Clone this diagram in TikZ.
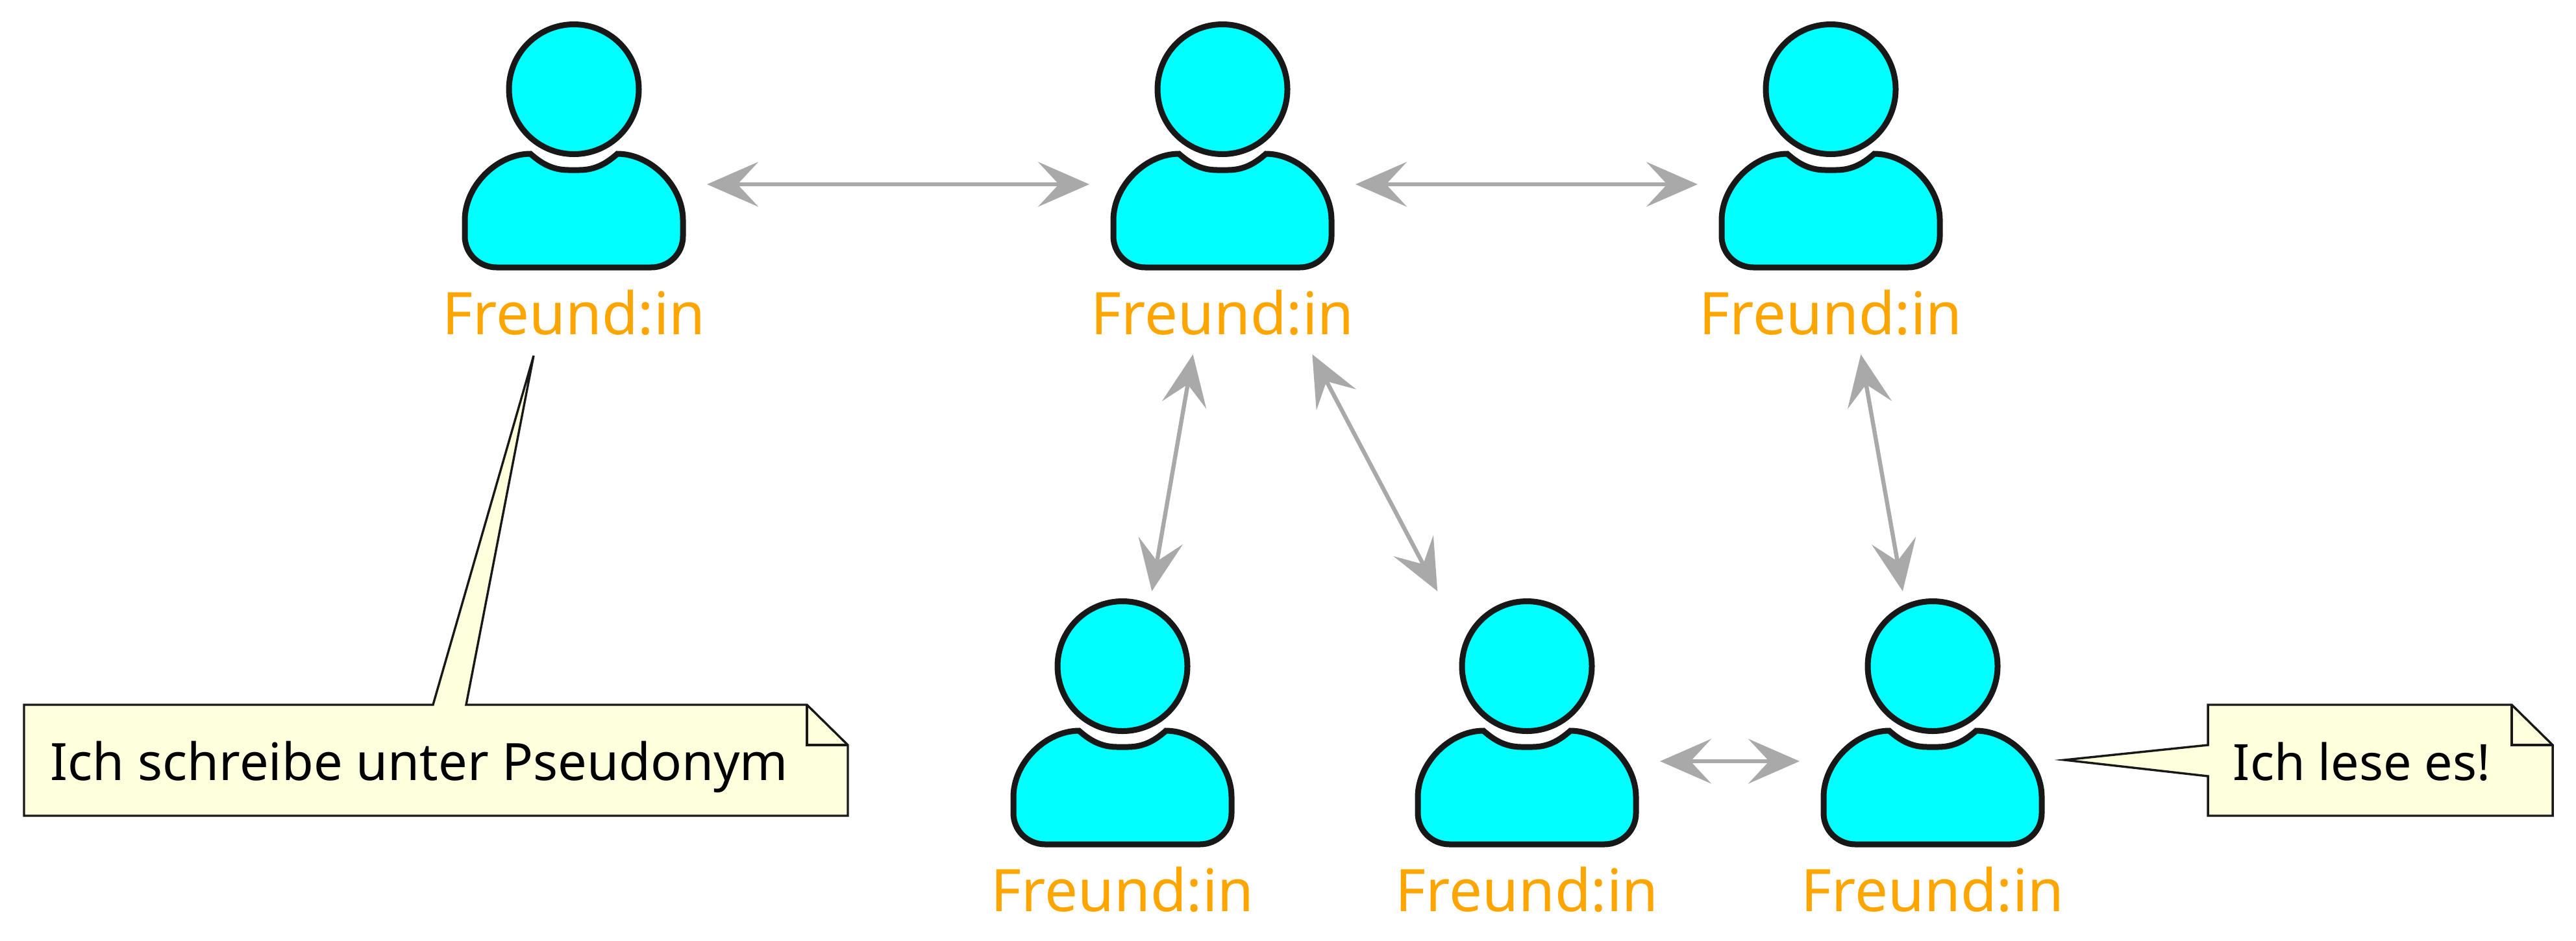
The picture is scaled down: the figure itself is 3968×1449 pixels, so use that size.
\documentclass[tikz,border=0pt]{standalone}
\usepackage{fontspec}
\setmainfont{Noto Sans}
\usetikzlibrary{arrows.meta}
\definecolor{linedark}{HTML}{181818}
\definecolor{notefill}{HTML}{FEFFDD}
\definecolor{arrowgrey}{HTML}{A9A9A9}
\definecolor{nameorange}{HTML}{FFA500}
\definecolor{friendcyan}{HTML}{00FFFF}
\tikzset{
  friend/.style={minimum width=102.5pt,minimum height=131pt,inner sep=0pt,outer sep=0pt},
  friendname/.style={anchor=base,inner sep=0pt,text=nameorange,font=\fontsize{22.6pt}{27pt}\selectfont},
  friendarrow/.style={draw=arrowgrey,line width=1.6pt,
    {Stealth[length=19.75pt,width=17.25pt,inset=8pt,color=arrowgrey]}-{Stealth[length=19.75pt,width=17.25pt,inset=8pt,color=arrowgrey]}},
  notebox/.style={draw=linedark,fill=notefill,line width=0.85pt,line join=miter},
  notefold/.style={draw=linedark,line width=0.85pt},
  notetext/.style={anchor=base west,inner sep=0pt,font=\fontsize{19.85pt}{24pt}\selectfont},
  friendicon/.pic={
    \draw[draw=linedark,fill=friendcyan,line width=2.25pt] (0,-146.5) circle[radius=100];
    \draw[draw=linedark,fill=friendcyan,line width=2.25pt]
      (-67,-47) .. controls (-52,-34) and (-35,-22) .. (-8,-22) -- (8,-22)
      .. controls (35,-22) and (52,-34) .. (67,-47)
      .. controls (118,-47) and (168,2) .. (168,55) -- (168,80)
      .. controls (168,107) and (146,128) .. (119,128) -- (-119,128)
      .. controls (-146,128) and (-168,107) .. (-168,80) -- (-168,55)
      .. controls (-168,2) and (-118,-47) .. (-67,-47) -- cycle;
  }
}
\begin{document}
\begin{tikzpicture}[x=0.25pt,y=-0.25pt]
  \useasboundingbox (0,0) rectangle (3968,1449);

  \node[friend] (f1) at (884,284) {};
  \node[friend] (f2) at (1883,284) {};
  \node[friend] (f3) at (2820,284) {};
  \node[friend] (f4) at (1729,1173) {};
  \node[friend] (f5) at (2352,1173) {};
  \node[friend] (f6) at (2977,1173) {};

  \pic at (f1) {friendicon};
  \pic at (f2) {friendicon};
  \pic at (f3) {friendicon};
  \pic at (f4) {friendicon};
  \pic at (f5) {friendicon};
  \pic at (f6) {friendicon};

  \node[friendname] (l1) at ([yshift=7.75pt]f1.south) {Freund:in};
  \node[friendname] (l2) at ([yshift=7.75pt]f2.south) {Freund:in};
  \node[friendname] (l3) at ([yshift=7.75pt]f3.south) {Freund:in};
  \node[friendname] (l4) at ([yshift=7.75pt]f4.south) {Freund:in};
  \node[friendname] (l5) at ([yshift=7.75pt]f5.south) {Freund:in};
  \node[friendname] (l6) at ([yshift=7.75pt]f6.south) {Freund:in};

  \path[friendarrow]
    (f1) edge (f2)
    (f2) edge (f3)
    (f2) edge (f4)
    (f2) edge (f5)
    (f3) edge (f6)
    (f5) edge (f6);

  \coordinate (t1) at (822,548);
  \coordinate (t2) at (3180,1171);

  \draw[notebox] (37,1086) -- (667,1086) -- (t1) -- (718,1086) -- (1243,1086) -- (1306,1148) -- (1306,1257) -- (37,1257) -- cycle;
  \draw[notefold] (1243,1086) -- (1243,1148) -- (1306,1148);
  \node[notetext] (n1) at (77,1202) {Ich schreibe unter Pseudonym};

  \draw[notebox] (3401,1086) -- (3869,1086) -- (3932,1148) -- (3932,1257) -- (3401,1257) -- (3401,1196) -- (t2) -- (3401,1148) -- cycle;
  \draw[notefold] (3869,1086) -- (3869,1148) -- (3932,1148);
  \node[notetext,font=\fontsize{19.3pt}{24pt}\selectfont] (n2) at (3439,1202) {Ich lese es!};
\end{tikzpicture}
\end{document}
